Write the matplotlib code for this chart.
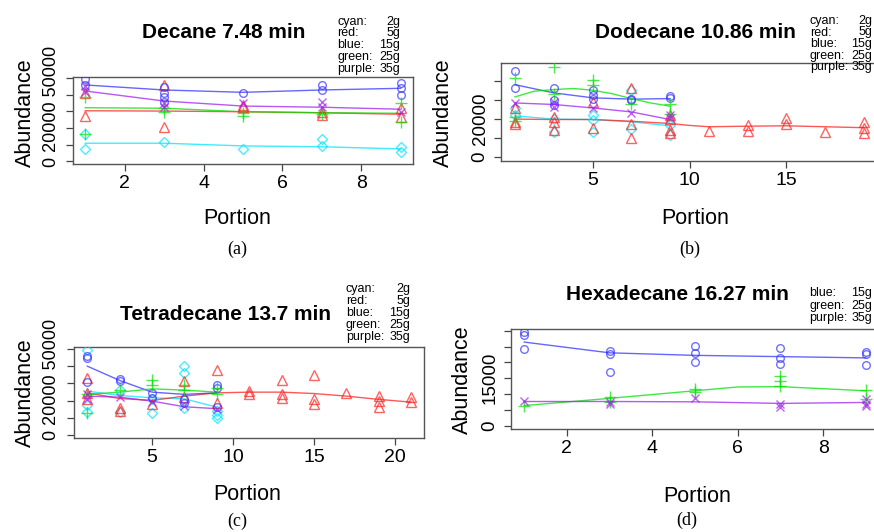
import matplotlib
matplotlib.use("Agg")
import matplotlib.pyplot as plt

# ---- data ----
odd = [1, 3, 5, 7, 9]

# (a) Decane 7.48 min
dec_cyan_x = [1, 1, 3, 5, 7, 7, 9, 9]
dec_cyan_y = [16400, 7500, 11800, 7500, 13400, 9300, 8800, 5800]
dec_cyan_fit = [10900, 10900, 9300, 8800, 7500]
dec_red_x = [1, 1, 3, 3, 5, 5, 7, 7, 9, 9]
dec_red_y = [41100, 27200, 45700, 20400, 33700, 32700, 29700, 27800, 31800, 26700]
dec_red_fit = [30300, 30100, 29700, 29100, 28200]
dec_blue_x = [1, 1, 3, 3, 3, 3, 5, 7, 7, 9, 9, 9]
dec_blue_y = [49000, 45700, 44700, 41100, 38700, 35700, 41100, 45700, 42700, 46700, 43700, 39700]
dec_blue_fit = [45700, 42700, 41300, 42700, 43700]
dec_green_x = [1, 1, 3, 3, 5, 5, 7, 9, 9]
dec_green_y = [38300, 16400, 31900, 29700, 28800, 27200, 28500, 34700, 23800]
dec_green_fit = [32100, 31800, 29700, 29100, 28800]
dec_purple_x = [1, 1, 3, 3, 5, 7, 7, 9]
dec_purple_y = [45000, 41700, 34900, 32700, 34700, 35700, 32700, 29700]
dec_purple_fit = [42100, 36100, 33100, 32400, 31200]

# (b) Dodecane 10.86 min
dod_cyan_x = [1, 1, 3, 3, 5, 5, 5, 7, 7, 9, 9]
dod_cyan_y = [25800, 22000, 19900, 13300, 22000, 19400, 12900, 35400, 14700, 16800, 11500]
dod_cyan_fit = [21600, 19900, 19700, 18500, 16400]
dod_red_x = [1, 1, 1, 3, 3, 3, 5, 5, 7, 7, 7, 9, 9, 9, 9, 11, 13, 13, 15, 15, 17, 19, 19, 19]
dod_red_y = [25500, 18500, 17600, 21100, 18500, 14100, 29000, 15400, 36000, 17100, 9800,
             22000, 20200, 14100, 12400, 13800, 16800, 13600, 20600, 17600, 12900, 18500, 15400, 12400]
dod_red_fit_x = [1, 3, 5, 7, 9, 10, 11, 13, 15, 17, 19]
dod_red_fit = [19900, 19700, 19700, 18800, 17600, 16600, 15900, 16200, 16400, 15900, 15400]
dod_blue_x = [1, 1, 3, 3, 3, 5, 5, 5, 7, 7, 9, 9]
dod_blue_y = [45200, 36500, 36500, 29800, 27200, 35100, 32500, 30700, 30700, 29800, 32100, 31100]
dod_blue_fit = [38000, 33700, 31100, 30400, 30700]
dod_green_x = [1, 1, 1, 3, 3, 5, 5, 7, 9, 9]
dod_green_y = [41700, 21100, 19000, 47300, 33000, 40300, 37700, 28100, 28100, 22500]
dod_green_fit_x = [1, 2, 3, 4, 5, 6, 7, 8, 9]
dod_green_fit = [31600, 34600, 35400, 36000, 35100, 33300, 30700, 28400, 26700]
dod_purple_x = [1, 3, 3, 5, 7, 9, 9]
dod_purple_y = [28400, 29000, 26400, 25800, 22900, 20600, 22000]
dod_purple_fit = [28400, 27600, 25800, 23700, 19700]

# (c) Tetradecane 13.7 min
tet_cyan_x = [1, 1, 1, 3, 3, 5, 5, 7, 7, 7, 9, 9, 9]
tet_cyan_y = [49200, 17200, 13300, 26400, 13500, 20700, 12900, 40000, 36100, 15800, 13900, 11400, 10000]
tet_cyan_fit = [25500, 23000, 21600, 21000, 16200]
tet_red_x = [1, 1, 1, 3, 3, 5, 7, 7, 9, 9, 11, 11, 13, 13, 13, 15, 15, 15, 17, 19, 19, 19, 21, 21]
tet_red_y = [33200, 24500, 21000, 15800, 13900, 17800, 31300, 22000, 37600, 18700, 25500, 23600,
             32200, 23600, 21600, 35100, 20700, 17800, 24500, 22600, 19700, 16400, 22000, 19100]
tet_red_fit_x = [1, 3, 5, 7, 9, 11, 13, 15, 17, 19, 21]
tet_red_fit = [24500, 21200, 20100, 22600, 24500, 24900, 24900, 24100, 22600, 20700, 19100]
tet_blue_x = [1, 1, 1, 3, 3, 5, 5, 7, 7, 9, 9, 9]
tet_blue_y = [45800, 44800, 30700, 32600, 31300, 24500, 21600, 20700, 18700, 29300, 27400, 16000]
tet_blue_fit = [40000, 31700, 24900, 23600, 24500]
tet_green_x = [1, 1, 3, 5, 5, 7, 7, 9, 9]
tet_green_y = [23600, 12900, 26400, 32200, 29300, 28800, 26100, 27400, 24000]
tet_green_fit = [23600, 24900, 26800, 26100, 24900]
tet_purple_x = [1, 1, 3, 5, 7, 9]
tet_purple_y = [23600, 21000, 22000, 19100, 16800, 15300]
tet_purple_fit = [22600, 22000, 19700, 16400, 15300]

# (d) Hexadecane 16.27 min
hex_blue_x = [1, 1, 1, 3, 3, 3, 5, 5, 5, 7, 7, 7, 9, 9, 9]
hex_blue_y = [29600, 28600, 24100, 23700, 22500, 16900, 25300, 23000, 20100,
              24600, 21400, 19400, 23200, 22500, 19100]
hex_blue_fit = [26400, 23000, 22200, 21800, 21400]
hex_green_x = [1, 3, 3, 5, 5, 7, 7, 7, 9, 9]
hex_green_y = [6300, 8900, 7300, 11500, 10700, 15700, 14100, 12600, 11300, 8400]
hex_green_fit_x = [1, 3, 5, 6, 7, 9]
hex_green_fit = [6300, 8600, 11000, 12200, 12300, 11000]
hex_purple_x = [1, 3, 3, 5, 7, 7, 9, 9, 9]
hex_purple_y = [7800, 7500, 6800, 8600, 6800, 5800, 8400, 6800, 6300]
hex_purple_fit = [7600, 7600, 7500, 7000, 7300]

legend_names = ["cyan:", "red:", "blue:", "green:", "purple:"]
legend_masses = ["2g", "5g", "15g", "25g", "35g"]

# ---- styles ----
W, H = 874, 532
style = {
    "cyan": dict(color="#00e5ff", marker="D", ms=5.0),
    "red": dict(color="#ff2020", marker="^", ms=6.5),
    "blue": dict(color="#3333ff", marker="o", ms=5.5),
    "green": dict(color="#00e000", marker="+", ms=8),
    "purple": dict(color="#a020f0", marker="x", ms=6),
}
plt.rcParams["font.family"] = ["Liberation Sans", "DejaVu Sans"]

fig = plt.figure(figsize=(W / 100, H / 100), dpi=100)


def box(left, right, top, bottom):
    return [left / W, 1 - bottom / H, (right - left) / W, (bottom - top) / H]


def ftext(x, y, s, **kw):
    fig.text(x / W, 1 - y / H, s, **kw)


def panel(rect, xlim, ylim, xticks, yticks, ylabels, series):
    ax = fig.add_axes(rect)
    for name, xs, ys, fx, fy in series:
        st = style[name]
        ax.plot(fx, fy, color=st["color"], lw=1.0, alpha=0.75, zorder=2)
        ax.plot(xs, ys, ls="none", marker=st["marker"], ms=st["ms"],
                mfc="none", mec=st["color"], mew=1.0, alpha=0.7, zorder=3)
    ax.set_xlim(*xlim)
    ax.set_ylim(*ylim)
    ax.set_xticks(xticks)
    ax.set_xticklabels([str(t) for t in xticks], fontsize=14)
    ax.set_yticks(yticks)
    ax.set_yticklabels(ylabels, fontsize=13.5, rotation=90, va="center")
    ax.tick_params(direction="out", length=5, width=0.9, color="#444444", pad=3)
    ax.tick_params(axis="y", pad=4)
    for sp in ax.spines.values():
        sp.set_color("#555555")
        sp.set_linewidth(1.0)
    return ax


def legend(x, x_right, y0, dy, names, masses):
    for i, (n, m) in enumerate(zip(names, masses)):
        ftext(x, y0 + i * dy, n, fontsize=9, va="center", ha="left")
        ftext(x_right, y0 + i * dy, m, fontsize=9, va="center", ha="right")


def lab(y_vals, shown):
    return [str(v) if v in shown else "" for v in y_vals]


# (a)
yt_a = [0, 10000, 20000, 30000, 40000, 50000]
panel(box(73, 413, 77, 164), (0.69, 9.31), (-1500, 50450), [2, 4, 6, 8],
      yt_a, lab(yt_a, ()),
      [("cyan", dec_cyan_x, dec_cyan_y, odd, dec_cyan_fit),
       ("red", dec_red_x, dec_red_y, odd, dec_red_fit),
       ("blue", dec_blue_x, dec_blue_y, odd, dec_blue_fit),
       ("green", dec_green_x, dec_green_y, odd, dec_green_fit),
       ("purple", dec_purple_x, dec_purple_y, odd, dec_purple_fit)])
ftext(52, 167, "0 20000 50000", fontsize=13, rotation=90, ha="center", va="bottom")
ftext(224, 33, "Decane 7.48 min", fontsize=15, fontweight="bold", ha="center", va="center")
legend(337, 400, 21.5, 11.8, legend_names, legend_masses)
ftext(25, 113, "Abundance", fontsize=15.5, rotation=90, ha="center", va="center")
ftext(237, 218, "Portion", fontsize=15.5, ha="center", va="center")
ftext(237, 249, "(a)", fontsize=13, family="Liberation Serif", ha="center", va="center")

# (b)
yt_b = [0, 10000, 20000, 30000, 40000]
panel(box(501, 878, 63, 161), (0.28, 19.72), (-2100, 49400), [5, 10, 15],
      yt_b, lab(yt_b, (0, 20000)),
      [("cyan", dod_cyan_x, dod_cyan_y, odd, dod_cyan_fit),
       ("red", dod_red_x, dod_red_y, dod_red_fit_x, dod_red_fit),
       ("blue", dod_blue_x, dod_blue_y, odd, dod_blue_fit),
       ("green", dod_green_x, dod_green_y, dod_green_fit_x, dod_green_fit),
       ("purple", dod_purple_x, dod_purple_y, odd, dod_purple_fit)])
ftext(695, 33, "Dodecane 10.86 min", fontsize=15, fontweight="bold", ha="center", va="center")
legend(810, 872, 21, 11.5, legend_names, legend_masses)
ftext(443, 113, "Abundance", fontsize=15.5, rotation=90, ha="center", va="center")
ftext(695, 218, "Portion", fontsize=15.5, ha="center", va="center")
ftext(690, 249, "(b)", fontsize=13, family="Liberation Serif", ha="center", va="center")

# (c)
panel(box(74, 424, 347, 438), (0.18, 21.8), (-1740, 51130), [5, 10, 15, 20],
      yt_a, lab(yt_a, ()),
      [("cyan", tet_cyan_x, tet_cyan_y, odd, tet_cyan_fit),
       ("red", tet_red_x, tet_red_y, tet_red_fit_x, tet_red_fit),
       ("blue", tet_blue_x, tet_blue_y, odd, tet_blue_fit),
       ("green", tet_green_x, tet_green_y, odd, tet_green_fit),
       ("purple", tet_purple_x, tet_purple_y, odd, tet_purple_fit)])
ftext(52, 440, "0 20000 50000", fontsize=13, rotation=90, ha="center", va="bottom")
ftext(225, 315, "Tetradecane 13.7 min", fontsize=15, fontweight="bold", ha="center", va="center")
legend(346, 410, 289, 12, legend_names, legend_masses)
ftext(25, 393, "Abundance", fontsize=15.5, rotation=90, ha="center", va="center")
ftext(247, 495, "Portion", fontsize=15.5, ha="center", va="center")
ftext(237, 521, "(c)", fontsize=13, family="Liberation Serif", ha="center", va="center")

# (d)
yt_d = [0, 5000, 10000, 15000, 20000, 25000, 30000]
panel(box(511, 879, 329, 429), (0.69, 9.31), (-1100, 30540), [2, 4, 6, 8],
      yt_d, lab(yt_d, (0, 15000)),
      [("blue", hex_blue_x, hex_blue_y, odd, hex_blue_fit),
       ("green", hex_green_x, hex_green_y, hex_green_fit_x, hex_green_fit),
       ("purple", hex_purple_x, hex_purple_y, odd, hex_purple_fit)])
ftext(677, 294, "Hexadecane 16.27 min", fontsize=15, fontweight="bold", ha="center", va="center")
legend(809, 872, 293, 12.5, legend_names[2:], legend_masses[2:])
ftext(462, 380, "Abundance", fontsize=15.5, rotation=90, ha="center", va="center")
ftext(697, 496, "Portion", fontsize=15.5, ha="center", va="center")
ftext(687, 520, "(d)", fontsize=13, family="Liberation Serif", ha="center", va="center")

fig.savefig("out.png", dpi=100)
